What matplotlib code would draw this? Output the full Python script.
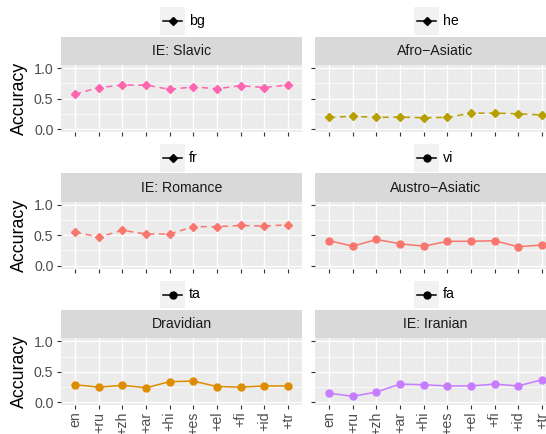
import matplotlib
matplotlib.use("Agg")
import matplotlib.pyplot as plt
from matplotlib.patches import Rectangle
from matplotlib.lines import Line2D

plt.rcParams['font.family'] = ['Liberation Sans', 'DejaVu Sans']

# x categories (training language added)
steps = ["en", "+ru", "+zh", "+ar", "+hi", "+es", "+el", "+fi", "+id", "+tr"]

# panel order: row by row, left then right
families = ["IE: Slavic", "Afro\u2212Asiatic", "IE: Romance", "Austro\u2212Asiatic", "Dravidian", "IE: Iranian"]
langs = ["bg", "he", "fr", "vi", "ta", "fa"]

acc_bg = [0.57, 0.68, 0.72, 0.72, 0.65, 0.69, 0.66, 0.71, 0.68, 0.72]
acc_he = [0.19, 0.21, 0.19, 0.195, 0.185, 0.19, 0.26, 0.26, 0.25, 0.23]
acc_fr = [0.55, 0.47, 0.58, 0.52, 0.52, 0.64, 0.64, 0.66, 0.65, 0.67]
acc_vi = [0.41, 0.32, 0.43, 0.36, 0.32, 0.40, 0.40, 0.41, 0.31, 0.34]
acc_ta = [0.29, 0.25, 0.28, 0.24, 0.34, 0.35, 0.26, 0.25, 0.27, 0.27]
acc_fa = [0.15, 0.10, 0.17, 0.30, 0.29, 0.27, 0.27, 0.30, 0.27, 0.37]
series = [acc_bg, acc_he, acc_fr, acc_vi, acc_ta, acc_fa]

colors = ["#FF64B0", "#B79F00", "#F8766D", "#F8766D", "#DE8C00", "#C77CFF"]
dashed = [True, True, True, False, False, False]

y_ticks = [0.0, 0.5, 1.0]
y_tick_labels = ["0.0", "0.5", "1.0"]

W, H = 546, 434
fig = plt.figure(figsize=(W / 100, H / 100), dpi=100)

col_x = [61, 315]
panel_w = 241
row_step = 136.7
panel_top0 = 64.95
panel_h = 67.1
strip_h = 28.3
small = 10.2
ms_d, ms_o = 3.6, 5.0

for i, (fam, lang, vals) in enumerate(zip(families, langs, series)):
    r, c = divmod(i, 2)
    top = panel_top0 + r * row_step
    ax = fig.add_axes([col_x[c] / W, 1 - (top + panel_h) / H, panel_w / W, panel_h / H])
    ax.set_facecolor("#EBEBEB")
    for s in ax.spines.values():
        s.set_visible(False)

    if dashed[i]:
        ax.plot(steps, vals, color=colors[i], lw=1.1, ls=(0, (4, 3)),
                marker="D", ms=ms_d, mec=colors[i], zorder=3)
    else:
        ax.plot(steps, vals, color=colors[i], lw=1.1, ls="-",
                marker="o", ms=ms_o, mec=colors[i], zorder=3)

    ax.set_xlim(-0.6, len(steps) - 0.4)
    ax.set_ylim(-0.05, 1.05)
    ax.set_yticks(y_ticks)
    ax.set_yticks([0.25, 0.75], minor=True)
    ax.grid(True, which="major", color="white", lw=1.0)
    ax.grid(True, which="minor", axis="y", color="white", lw=0.5)
    ax.set_axisbelow(True)
    ax.tick_params(which="major", length=2.9, width=0.8, color="#333333",
                   labelsize=small, labelcolor="#4D4D4D", pad=2.5)
    ax.tick_params(which="minor", length=0)

    if c == 0:
        ax.set_yticklabels(y_tick_labels)
    else:
        ax.set_yticklabels([])
    if r == 2:
        ax.tick_params(axis="x", labelrotation=90, pad=1.5)
    else:
        ax.set_xticklabels([])

    # facet strip
    sh = strip_h / panel_h
    ax.add_patch(Rectangle((0, 1), 1, sh, transform=ax.transAxes,
                           facecolor="#D9D9D9", edgecolor="none", clip_on=False))
    ax.text(0.5, 1 + sh / 2, fam, transform=ax.transAxes, ha="center", va="center",
            fontsize=small, color="#1A1A1A")

    # legend above strip
    cx = col_x[c] + panel_w / 2
    ky0 = top - strip_h - 1.7
    kh = 27.7
    fig.add_artist(Rectangle(((cx - 21.5) / W, 1 - ky0 / H), 25 / W, kh / H,
                             transform=fig.transFigure, facecolor="#F2F2F2",
                             edgecolor="none"))
    ky = 1 - (ky0 - kh / 2) / H
    fig.add_artist(Line2D([(cx - 18.5) / W, (cx + 0.5) / W], [ky, ky],
                          transform=fig.transFigure, color="black", lw=1.1))
    fig.add_artist(Line2D([(cx - 9) / W], [ky], transform=fig.transFigure,
                          color="black", marker="D" if dashed[i] else "o",
                          ms=ms_d if dashed[i] else ms_o))
    fig.text((cx + 7.5) / W, ky, lang, ha="left", va="center", fontsize=small, color="black")

    if c == 0:
        fig.text(19.4 / W, 1 - (top + panel_h / 2) / H, "Accuracy", rotation=90,
                 ha="center", va="center", fontsize=12.75, color="black")

fig.savefig("out.png", dpi=100)
